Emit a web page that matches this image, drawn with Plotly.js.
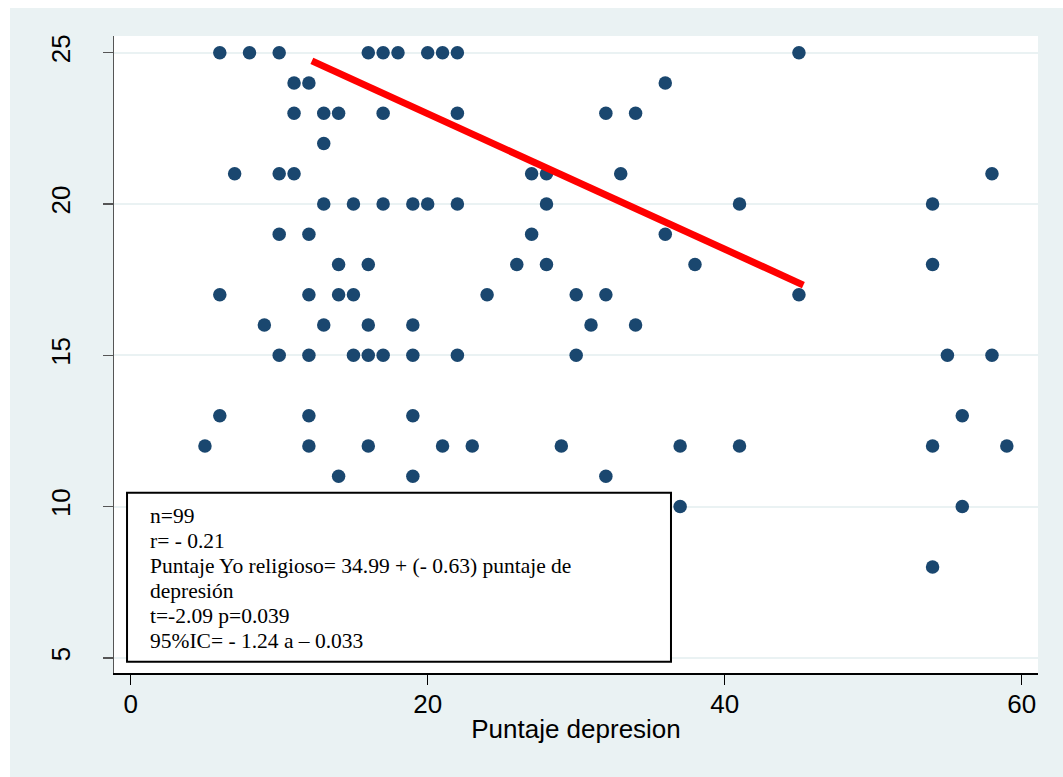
<!DOCTYPE html>
<html>
<head>
<meta charset="utf-8">
<script src="https://cdn.plot.ly/plotly-3.0.1.min.js"></script>
<style>
  html, body { margin: 0; padding: 0; background: #ffffff; }
  #chart { position: absolute; left: 10px; top: 8px; width: 1053px; height: 769px; }
</style>
</head>
<body>
<div id="chart"></div>
<script>
// Puntaje depresion (x) and Puntaje Yo religioso (y)
const depresion = [
  6, 8, 10, 16, 17, 18, 20, 21, 22, 45,
  11, 12, 36,
  11, 13, 14, 17, 22, 32, 34,
  13,
  7, 10, 11, 27, 28, 33, 58,
  13, 15, 17, 19, 20, 22, 28, 41, 54,
  10, 12, 27, 36,
  14, 16, 26, 28, 38, 54,
  6, 12, 14, 15, 24, 30, 32, 45,
  9, 13, 16, 19, 31, 34,
  10, 12, 15, 16, 17, 19, 22, 30, 55, 58,
  6, 12, 19, 56,
  5, 12, 16, 21, 23, 29, 37, 41, 54, 59,
  14, 19, 32,
  37, 56,
  54
];
const yoReligioso = [
  25, 25, 25, 25, 25, 25, 25, 25, 25, 25,
  24, 24, 24,
  23, 23, 23, 23, 23, 23, 23,
  22,
  21, 21, 21, 21, 21, 21, 21,
  20, 20, 20, 20, 20, 20, 20, 20, 20,
  19, 19, 19, 19,
  18, 18, 18, 18, 18, 18,
  17, 17, 17, 17, 17, 17, 17, 17,
  16, 16, 16, 16, 16, 16,
  15, 15, 15, 15, 15, 15, 15, 15, 15, 15,
  13, 13, 13, 13,
  12, 12, 12, 12, 12, 12, 12, 12, 12, 12,
  11, 11, 11,
  10, 10,
  8
];
// Fitted line as drawn
const fitX = [12.2, 45.3];
const fitY = [24.73, 17.32];

const xTicks = [0, 20, 40, 60];
const yTicks = [5, 10, 15, 20, 25];
const xTitle = 'Puntaje depresion';
const boxLines = [
  'n=99',
  'r= - 0.21',
  'Puntaje Yo religioso= 34.99 + (- 0.63) puntaje de',
  'depresión',
  't=-2.09 p=0.039',
  '95%IC= - 1.24 a \u2013 0.033'
];

const traces = [
  {
    type: 'scatter', mode: 'markers',
    x: depresion, y: yoReligioso,
    marker: { color: '#1A476F', size: 13.5, line: { width: 0 } },
    hoverinfo: 'skip', showlegend: false
  },
  {
    type: 'scatter', mode: 'lines',
    x: fitX, y: fitY,
    line: { color: '#FF0000', width: 7 },
    hoverinfo: 'skip', showlegend: false
  }
];

// text line layout inside the box (paper coords)
const lineTop = 0.2465, lineStep = 0.03925;
const boxAnnotations = boxLines.map((t, i) => ({
  xref: 'paper', yref: 'paper', x: 0.0368, y: lineTop - i * lineStep,
  xanchor: 'left', yanchor: 'middle', align: 'left', showarrow: false,
  text: t,
  font: { family: '"Liberation Serif", "Times New Roman", serif', size: 21.5, color: '#000000' }
}));

const layout = {
  width: 1053, height: 769,
  margin: { l: 104, r: 25, t: 28, b: 104, pad: 0 },
  paper_bgcolor: '#EAF2F3',
  plot_bgcolor: '#FFFFFF',
  showlegend: false,
  font: { family: '"Liberation Sans", Arial, sans-serif', color: '#000000' },
  xaxis: {
    range: [-1.125, 61.1],
    tickvals: xTicks, ticktext: xTicks.map(String),
    showgrid: false, zeroline: false,
    showline: true, linecolor: '#000000', linewidth: 1.5,
    ticks: 'outside', ticklen: 10, tickwidth: 1.5, tickcolor: '#000000',
    tickfont: { size: 26, color: '#000000' },
    ticklabelstandoff: -3,
    title: { text: xTitle, font: { size: 26, color: '#000000' }, standoff: 2 },
    automargin: false
  },
  yaxis: {
    range: [4.498, 25.552],
    tickvals: yTicks, ticktext: yTicks.map(String),
    tickangle: -90,
    showgrid: true, gridcolor: '#EAF2F3', gridwidth: 2,
    zeroline: false,
    showline: true, linecolor: '#555555', linewidth: 1.5,
    ticks: 'outside', ticklen: 10, tickwidth: 1.5, tickcolor: '#555555',
    tickfont: { size: 26, color: '#000000' },
    ticklabelstandoff: 22,
    automargin: false
  },
  shapes: [
    {
      type: 'rect', xref: 'paper', yref: 'paper', layer: 'above',
      x0: 0.0141, x1: 0.6028, y0: 0.0177, y1: 0.2829,
      fillcolor: '#FFFFFF', line: { color: '#000000', width: 2 }
    }
  ],
  annotations: boxAnnotations
};

Plotly.newPlot('chart', traces, layout, { displayModeBar: false, staticPlot: true });
</script>
</body>
</html>
